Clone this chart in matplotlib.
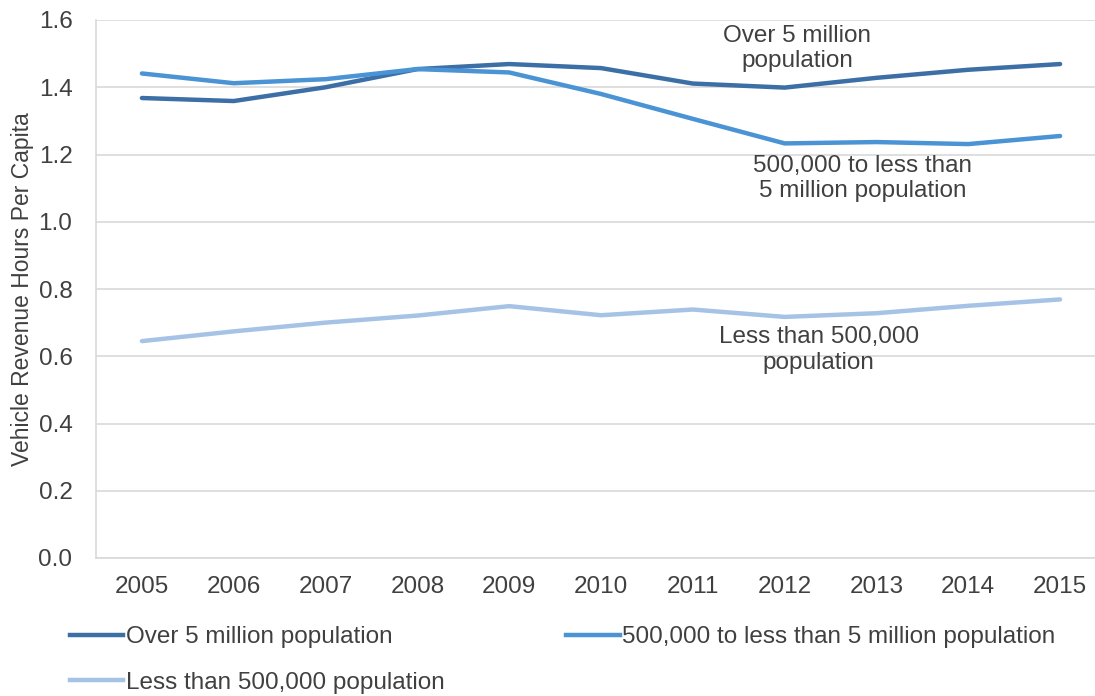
import matplotlib
matplotlib.use('Agg')
import matplotlib.pyplot as plt
from matplotlib.lines import Line2D

plt.rcParams['font.family'] = ['Liberation Sans', 'DejaVu Sans']

# 数据
years = ['2005', '2006', '2007', '2008', '2009', '2010', '2011', '2012', '2013', '2014', '2015']
over_5m = [1.368, 1.359, 1.40, 1.454, 1.469, 1.457, 1.411, 1.399, 1.428, 1.452, 1.469]
mid_500k_5m = [1.441, 1.412, 1.424, 1.454, 1.444, 1.38, 1.306, 1.233, 1.237, 1.231, 1.255]
under_500k = [0.645, 0.674, 0.70, 0.721, 0.749, 0.722, 0.739, 0.717, 0.728, 0.750, 0.769]

names = ['Over 5 million population', '500,000 to less than 5 million population',
         'Less than 500,000 population']
colors = ['#3b6fa6', '#4a93d4', '#a6c3e6']
txt = '#404040'
fs = 17.5

fig = plt.figure(figsize=(10.95, 6.96), dpi=100)
ax = fig.add_axes([96 / 1095, 138 / 696, 1010 / 1095, 538 / 696])

x = list(range(len(years)))
for y, c in zip([over_5m, mid_500k_5m, under_500k], colors):
    ax.plot(x, y, color=c, linewidth=3.2, solid_capstyle='round')

ax.set_xlim(-0.5, 10.5)
ax.set_ylim(0, 1.6)
ax.set_yticks([0, 0.2, 0.4, 0.6, 0.8, 1.0, 1.2, 1.4, 1.6])
ax.set_yticklabels(['0.0', '0.2', '0.4', '0.6', '0.8', '1.0', '1.2', '1.4', '1.6'])
ax.set_xticks(x)
ax.set_xticklabels(years)
ax.tick_params(axis='both', length=0, labelsize=fs, colors=txt)
ax.tick_params(axis='y', pad=17)
ax.tick_params(axis='x', pad=13)
ax.grid(axis='y', color='#d9d9d9', linewidth=1.2)
ax.set_axisbelow(True)
for s in ['top', 'right']:
    ax.spines[s].set_visible(False)
for s in ['left', 'bottom']:
    ax.spines[s].set_color('#d9d9d9')
    ax.spines[s].set_linewidth(1.2)
ax.set_ylabel('Vehicle Revenue Hours Per Capita', fontsize=16.5, color=txt, labelpad=3)

# 线上标注
ax.text(7.14, 1.515, 'Over 5 million\npopulation', ha='center', va='center',
        fontsize=fs, color=txt, linespacing=1.2)
ax.text(7.85, 1.128, '500,000 to less than\n5 million population', ha='center', va='center',
        fontsize=fs, color=txt, linespacing=1.2)
ax.text(7.37, 0.619, 'Less than 500,000\npopulation', ha='center', va='center',
        fontsize=fs, color=txt, linespacing=1.2)

# 图例
handles = [Line2D([], [], color=c, linewidth=3.2) for c in colors]
order = [0, 2, 1]
fig.legend([handles[i] for i in order], [names[i] for i in order], ncol=2,
           loc='upper left', bbox_to_anchor=(70 / 1095, 1 - 626 / 696),
           frameon=False, fontsize=fs, handlelength=2.2, handletextpad=0.1,
           columnspacing=5.0, labelspacing=0.98, borderpad=0, borderaxespad=0,
           labelcolor=txt)

plt.savefig('out.png', dpi=100)
plt.close()
